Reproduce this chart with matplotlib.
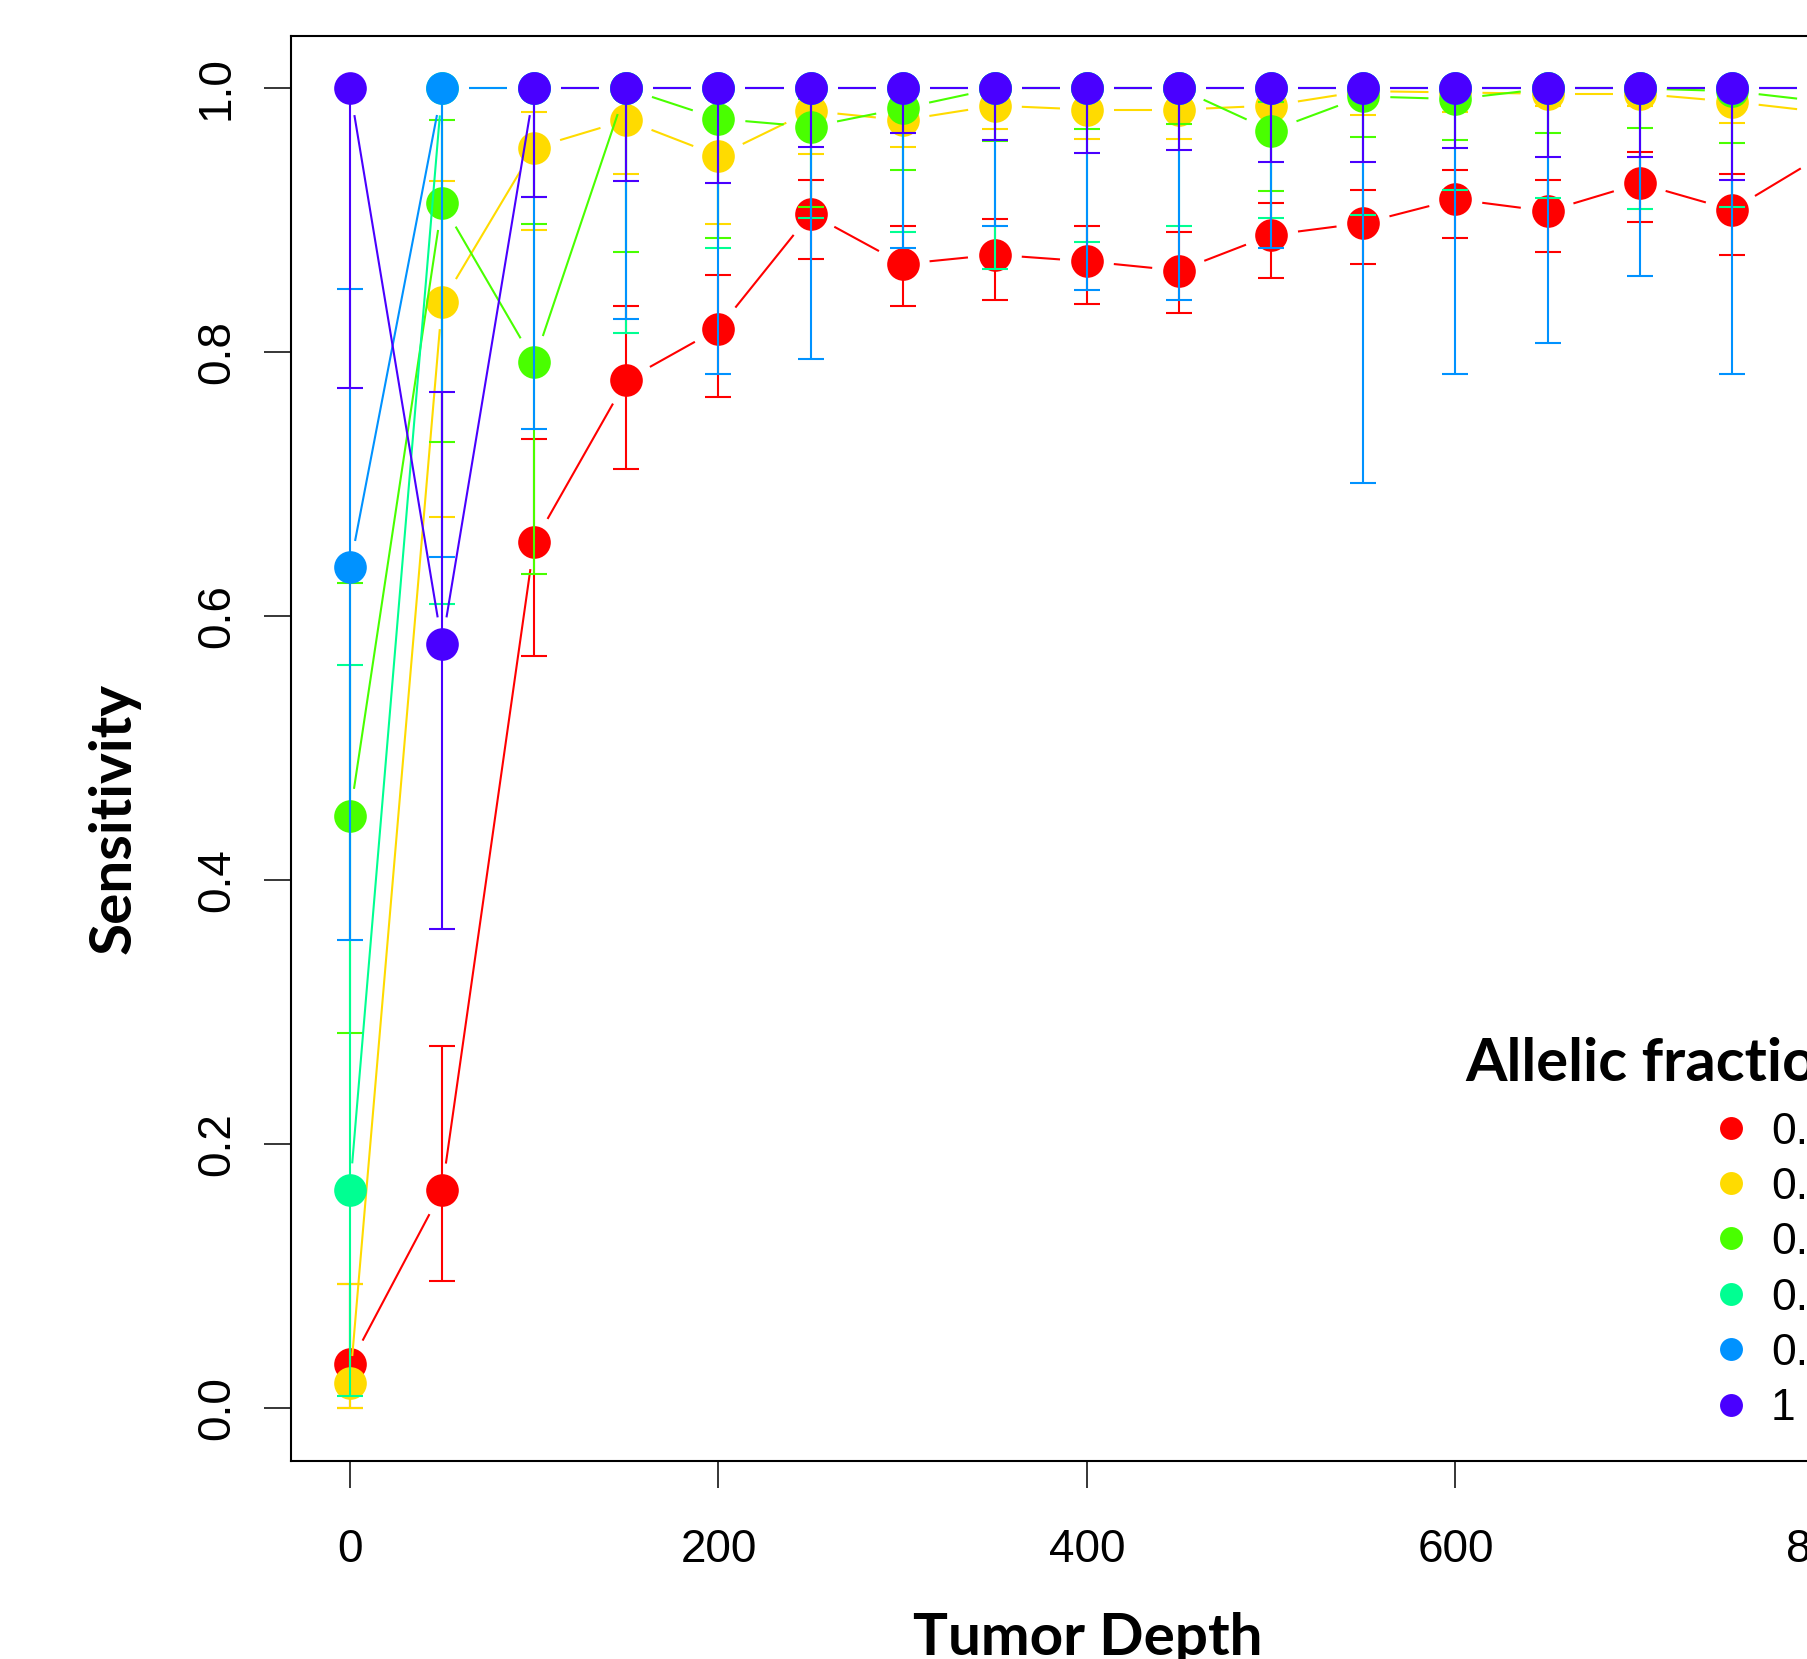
import numpy as np
import matplotlib
matplotlib.use("Agg")
import matplotlib.pyplot as plt
from matplotlib.lines import Line2D

# ---------------- data ----------------
depth = [0, 50, 100, 150, 200, 250, 300, 350, 400, 450, 500, 550, 600, 650, 700, 750, 800]

fraction_labels = ["0.05", "0.1", "0.2", "0.3", "0.5", "1"]
colors = ["#FF0000", "#FFDB00", "#49FF00", "#00FF92", "#0092FF", "#4900FF"]

sens_005 = [0.033, 0.165, 0.656, 0.779, 0.818, 0.905, 0.867, 0.874, 0.869, 0.862, 0.889, 0.898, 0.916, 0.907, 0.928, 0.908, 0.950]
lo_005 = [0.000, 0.096, 0.570, 0.712, 0.766, 0.871, 0.835, 0.840, 0.837, 0.830, 0.856, 0.867, 0.887, 0.876, 0.899, 0.874, 0.920]
hi_005 = [0.094, 0.274, 0.734, 0.835, 0.859, 0.931, 0.896, 0.901, 0.896, 0.891, 0.913, 0.923, 0.938, 0.931, 0.952, 0.935, 0.970]

sens_01 = [0.019, 0.838, 0.955, 0.976, 0.949, 0.983, 0.976, 0.987, 0.984, 0.984, 0.987, 0.998, 0.997, 0.996, 0.996, 0.990, 0.982]
lo_01 = [0.000, 0.675, 0.893, 0.935, 0.897, 0.950, 0.956, 0.969, 0.962, 0.962, 0.965, 0.980, 0.982, 0.987, 0.987, 0.974, 0.960]
hi_01 = [0.094, 0.930, 0.982, 0.995, 0.978, 0.996, 0.990, 0.996, 0.995, 0.995, 0.996, 1.000, 1.000, 1.000, 1.000, 1.000, 0.995]

sens_02 = [0.449, 0.913, 0.793, 1.000, 0.977, 0.971, 0.985, 1.000, 1.000, 1.000, 0.968, 0.994, 0.992, 1.000, 1.000, 0.998, 0.990]
lo_02 = [0.284, 0.732, 0.632, 0.876, 0.887, 0.910, 0.938, 0.960, 0.969, 0.973, 0.922, 0.963, 0.961, 0.966, 0.970, 0.959, 0.960]
hi_02 = [0.625, 0.976, 0.897, 1.000, 0.995, 0.992, 0.997, 1.000, 1.000, 1.000, 0.990, 1.000, 1.000, 1.000, 1.000, 1.000, 1.000]

sens_03 = [0.165, 1.000, 1.000, 1.000, 1.000, 1.000, 1.000, 1.000, 1.000, 1.000, 1.000, 1.000, 1.000, 1.000, 1.000, 1.000, 1.000]
lo_03 = [0.009, 0.609, 0.918, 0.815, 0.879, 0.902, 0.891, 0.863, 0.884, 0.896, 0.902, 0.904, 0.923, 0.917, 0.909, 0.910, 0.920]
hi_03 = [0.563, 1.000, 1.000, 1.000, 1.000, 1.000, 1.000, 1.000, 1.000, 1.000, 1.000, 1.000, 1.000, 1.000, 1.000, 1.000, 1.000]

sens_05 = [0.637, 1.000, 1.000, 1.000, 1.000, 1.000, 1.000, 1.000, 1.000, 1.000, 1.000, 1.000, 1.000, 1.000, 1.000, 1.000, 1.000]
lo_05 = [0.355, 0.645, 0.742, 0.825, 0.784, 0.795, 0.879, 0.896, 0.847, 0.840, 0.879, 0.701, 0.784, 0.807, 0.858, 0.784, 0.800]
hi_05 = [0.848, 1.000, 1.000, 1.000, 1.000, 1.000, 1.000, 1.000, 1.000, 1.000, 1.000, 1.000, 1.000, 1.000, 1.000, 1.000, 1.000]

sens_1 = [1.000, 0.579, 1.000, 1.000, 1.000, 1.000, 1.000, 1.000, 1.000, 1.000, 1.000, 1.000, 1.000, 1.000, 1.000, 1.000, 1.000]
lo_1 = [0.773, 0.363, 0.918, 0.930, 0.928, 0.956, 0.966, 0.961, 0.951, 0.953, 0.944, 0.944, 0.955, 0.948, 0.948, 0.931, 0.950]
hi_1 = [1.000, 0.770, 1.000, 1.000, 1.000, 1.000, 1.000, 1.000, 1.000, 1.000, 1.000, 1.000, 1.000, 1.000, 1.000, 1.000, 1.000]

series = [
    (sens_005, lo_005, hi_005),
    (sens_01, lo_01, hi_01),
    (sens_02, lo_02, hi_02),
    (sens_03, lo_03, hi_03),
    (sens_05, lo_05, hi_05),
    (sens_1, lo_1, hi_1),
]

xticks = [0, 200, 400, 600, 800]
yticks = [0.0, 0.2, 0.4, 0.6, 0.8, 1.0]
ytick_labels = ["0.0", "0.2", "0.4", "0.6", "0.8", "1.0"]

# ---------------- figure ----------------
W, H = 1807, 1659
DPI = 100
fig = plt.figure(figsize=(W / DPI, H / DPI), dpi=DPI)
fig.patch.set_facecolor("white")

def fx(px):
    return px / W

def fy(py):
    return 1 - py / H

ax = fig.add_axes([fx(291.0), fy(1460.8), 1591.9 / W, 1425.1 / H])
ax.set_xlim(-32, 832)
ax.set_ylim(-0.04, 1.04)

for sp in ax.spines.values():
    sp.set_linewidth(1.5)
    sp.set_color("black")

ax.set_xticks(xticks)
ax.set_xticklabels([str(t) for t in xticks])
ax.set_yticks(yticks)
ax.set_yticklabels(ytick_labels)
ax.tick_params(axis="both", direction="out", length=19.5, width=1.1, color="black",
               labelsize=33)
ax.tick_params(axis="x", pad=29)
ax.tick_params(axis="y", pad=18)
for lab in ax.get_xticklabels() + ax.get_yticklabels():
    lab.set_fontfamily("Liberation Sans")
for lab in ax.get_yticklabels():
    lab.set_rotation(90)
    lab.set_va("center")

GAP = 27.0  # px gap around points (R type="b")
LW = 1.5
MS = 23.5
CAP = 9.35  # half-length of caps in points

inv = ax.transData.inverted()
x_arr = np.asarray(depth, dtype=float)
for i, ((y, lo, hi), col) in enumerate(zip(series, colors)):
    y = np.asarray(y, dtype=float)
    lo = np.asarray(lo, dtype=float)
    hi = np.asarray(hi, dtype=float)
    base = 2 + i * 3
    pts = ax.transData.transform(np.column_stack([x_arr, y]))
    for k in range(len(pts) - 1):
        p1, p2 = pts[k], pts[k + 1]
        d = p2 - p1
        L = np.hypot(*d)
        if L <= 2 * GAP:
            continue
        a = p1 + d * GAP / L
        b = p2 - d * GAP / L
        seg = inv.transform(np.vstack([a, b]))
        ax.plot(seg[:, 0], seg[:, 1], color=col, lw=LW, zorder=base,
                solid_capstyle="butt", clip_on=False)
    ax.errorbar(x_arr, y, yerr=[y - lo, hi - y], fmt="none", ecolor=col,
                elinewidth=LW, capsize=CAP, capthick=LW, zorder=base + 1,
                clip_on=False)
    ax.plot(x_arr, y, ls="none", marker="o", ms=MS, color=col,
            markeredgewidth=0, zorder=base + 2, clip_on=False)

# ---------------- axis titles ----------------
bold_font = dict(family="Lato", weight="bold")
fig.text(fx(114), fy(818), "Sensitivity", rotation=90, ha="center", va="center",
         fontsize=42, **bold_font)
fig.text(fx(1087.5), fy(1655), "Tumor Depth", ha="center", va="baseline",
         fontsize=42, **bold_font)

# ---------------- legend ----------------
fig.text(fx(1465), fy(1081), "Allelic fraction", ha="left", va="baseline",
         fontsize=43, **bold_font)
leg_y0 = 1127.5
leg_dy = 55.4
for k, (lab, col) in enumerate(zip(fraction_labels, colors)):
    yy = leg_y0 + k * leg_dy
    fig.add_artist(Line2D([fx(1731)], [fy(yy)], transform=fig.transFigure,
                          marker="o", ms=16.5, color=col, ls="none",
                          markeredgewidth=0))
    fig.text(fx(1771), fy(yy + 16), lab, ha="left", va="baseline",
             fontsize=32, family="Liberation Sans")

fig.savefig("out.png", dpi=DPI, facecolor="white")
